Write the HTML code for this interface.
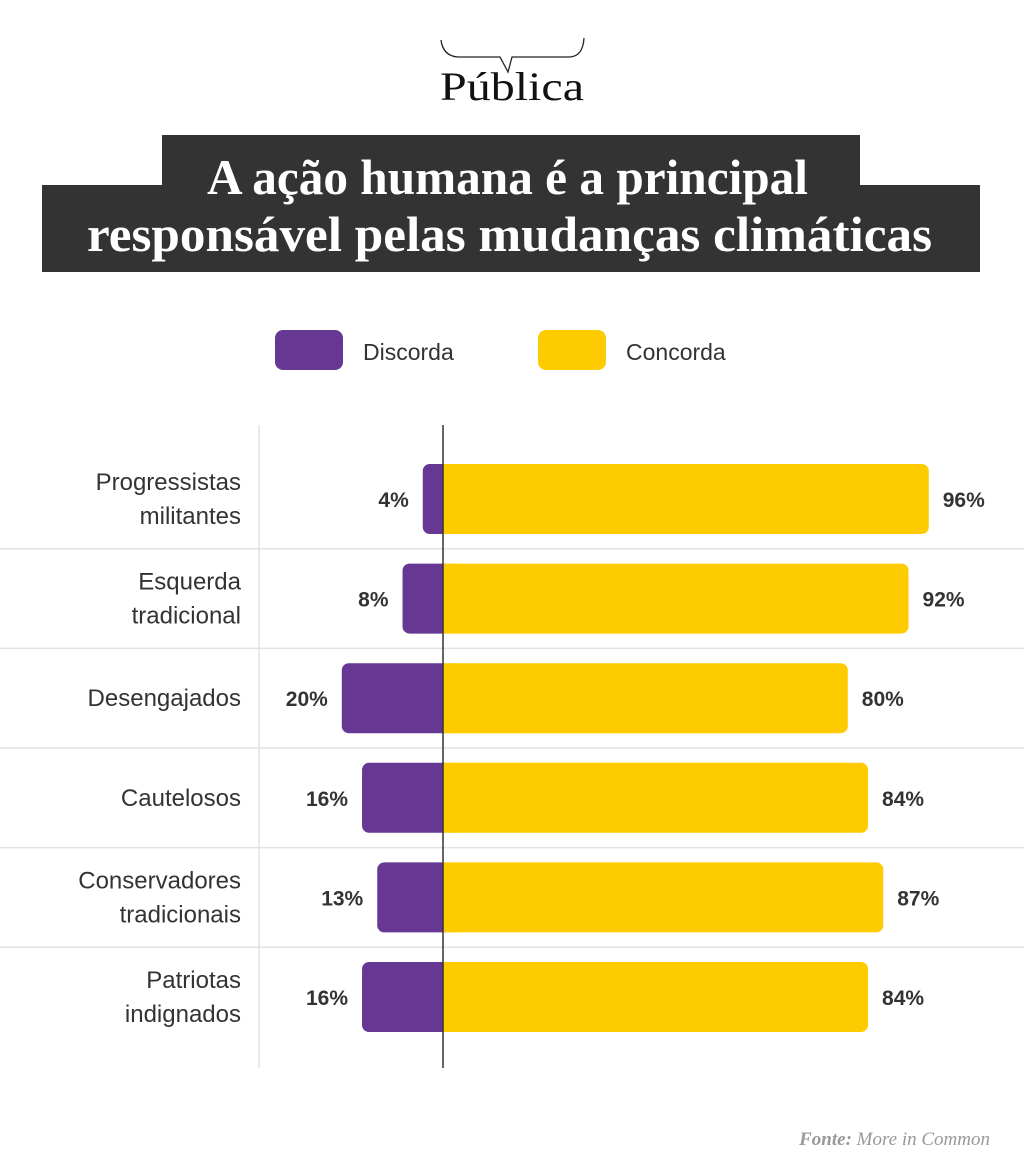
<!DOCTYPE html>
<html><head><meta charset="utf-8"><style>
body{margin:0;background:#fff;width:1024px;height:1170px;overflow:hidden;font-family:"Liberation Sans",sans-serif}
svg{display:block}
</style></head><body>
<svg id="c" width="1024" height="1170">
<g>
<path d="M441 40 Q443 56 458 57 L500 57 L508 72 L512 57 L570 57 Q583 56 584 38" fill="none" stroke="#222" stroke-width="1.3"/>
<text x="512" y="100" text-anchor="middle" font-family="Liberation Serif,serif" font-size="40" fill="#111" textLength="144" lengthAdjust="spacingAndGlyphs">Pública</text>
</g>
<g>
<rect x="162" y="135" width="698" height="60" fill="#333"/>
<rect x="42" y="185" width="938" height="87" fill="#333"/>
<text x="207" y="194" font-family="Liberation Serif,serif" font-weight="bold" font-size="50" fill="#fff" textLength="601" lengthAdjust="spacingAndGlyphs">A ação humana é a principal</text>
<text x="87" y="251" font-family="Liberation Serif,serif" font-weight="bold" font-size="50" fill="#fff" textLength="845" lengthAdjust="spacingAndGlyphs">responsável pelas mudanças climáticas</text>
</g>
<g>
<rect x="275" y="330" width="68" height="40" rx="8" fill="#663893"/>
<text x="363" y="360" font-size="23" fill="#333">Discorda</text>
<rect x="538" y="330" width="68" height="40" rx="8" fill="#fdcb00"/>
<text x="626" y="360" font-size="23" fill="#333">Concorda</text>
</g>
<g id="plot"></g>
<text x="990" y="1145" text-anchor="end" font-family="Liberation Serif,serif" font-style="italic" font-size="19" fill="#999"><tspan font-weight="bold">Fonte:</tspan> More in Common</text>
</svg>
<script>
const categories=[["Progressistas","militantes"],["Esquerda","tradicional"],["Desengajados"],["Cautelosos"],["Conservadores","tradicionais"],["Patriotas","indignados"]];
const discorda=[4,8,20,16,13,16];
const concorda=[96,92,80,84,87,84];
const NS="http://www.w3.org/2000/svg";
const g=document.getElementById('plot');
const x0=443, k=5.06;
const xs=v=>x0+v*k;
const yc=i=>499+i*99.6;
const bh=70;
function el(t,a){const e=document.createElementNS(NS,t);for(const n in a)e.setAttribute(n,a[n]);g.appendChild(e);return e;}
let vl=el('line',{x1:259,x2:259,y1:425,y2:1068,stroke:'#e2e2e2','stroke-width':1.5});


for(let i=0;i<categories.length-1;i++){
  const y=(yc(i)+yc(i+1))/2;
  const l=el('line',{x1:0,x2:1024,y1:y,y2:y,stroke:'#e2e2e2','stroke-width':1.5});
  
  
}
categories.forEach((c,i)=>{
  const y=yc(i);
  const d=discorda[i], a=concorda[i];
  const pb=el('rect',{x:xs(-d),y:y-bh/2,width:d*k+8,height:bh,rx:7,fill:'#663893'});
  
  
  const yb=el('rect',{x:x0,y:y-bh/2,width:a*k,height:bh,rx:7,fill:'#fdcb00'});
  
  
  const sq=el('rect',{x:x0,y:y-bh/2,width:10,height:bh,fill:'#fdcb00'});
  
  
  const t1=el('text',{x:xs(-d)-14,y:y+8,'text-anchor':'end','font-size':21,'font-weight':'bold',fill:'#333'});
  t1.textContent=d+'%';
  
  
  const t2=el('text',{x:xs(a)+14,y:y+8,'font-size':21,'font-weight':'bold',fill:'#333'});
  t2.textContent=a+'%';
  
  
  const lab=el('text',{x:241,'text-anchor':'end','font-size':24,fill:'#333'});
  
  
  c.forEach((s,j)=>{const ts=document.createElementNS(NS,'tspan');ts.setAttribute('x',241);ts.setAttribute('y',y+8+(j-(c.length-1)/2)*34);ts.textContent=s;lab.appendChild(ts);});
});
const ax=el('line',{x1:x0,x2:x0,y1:425,y2:1068,stroke:'#333','stroke-width':1.5});


</script>
</body></html>
